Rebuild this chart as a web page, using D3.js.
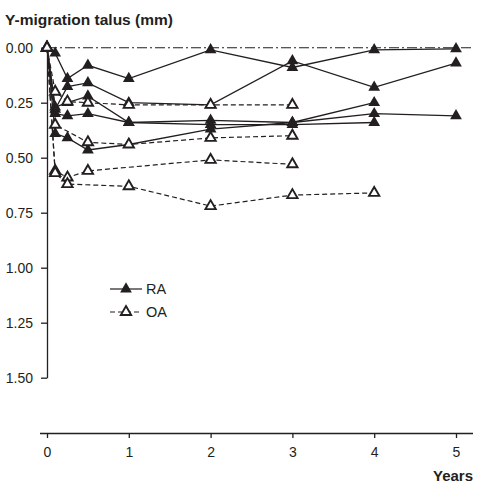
<!DOCTYPE html>
<html><head><meta charset="utf-8">
<script src="https://cdn.jsdelivr.net/npm/d3@7"></script>
<style>body{margin:0;background:#fff}svg{display:block}</style>
</head><body>
<script>
const years = [0, 0.1, 0.25, 0.5, 1, 2, 3, 4, 5];
const ra1 = [0, 0.025, 0.14, 0.08, 0.14, 0.01, 0.09, 0.01, 0.005];
const ra2 = [0, 0.28, 0.177, 0.16, 0.25, 0.26, 0.06, 0.18, 0.07];
const ra3 = [0, 0.30, 0.31, 0.30, 0.34, 0.33, 0.34, 0.25, null];
const ra4 = [0, 0.39, 0.41, 0.465, 0.44, 0.37, 0.34, 0.30, 0.31];
const ra5 = [0, 0.27, 0.25, 0.22, 0.34, 0.35, 0.35, 0.34, null];
const oa1 = [0, 0.20, 0.245, 0.25, 0.26, 0.26, 0.26, null, null];
const oa2 = [0, 0.35, null, 0.43, 0.44, 0.41, 0.40, null, null];
const oa3 = [0, 0.56, 0.59, 0.56, null, 0.51, 0.53, null, null];
const oa4 = [0, 0.57, 0.62, null, 0.63, 0.72, 0.67, 0.66, null];
const raSeries = [ra1, ra2, ra3, ra4, ra5];
const oaSeries = [oa1, oa2, oa3, oa4];
const yTicks = [0, 0.25, 0.5, 0.75, 1.0, 1.25, 1.5];
const xTicks = [0, 1, 2, 3, 4, 5];
const legendLabels = ["RA", "OA"];

const W = 477, H = 484, ink = "#231f20";
const font = "Liberation Sans, Arial, Helvetica, sans-serif";
const svg = d3.select("body").append("svg").attr("width", W).attr("height", H)
  .style("font-family", font);

const x = d3.scaleLinear().domain([0, 5]).range([47, 456]);
const y = d3.scaleLinear().domain([0, 1.5]).range([47.7, 377.7]);

// title
svg.append("text").attr("x", 5).attr("y", 25).text("Y-migration talus (mm)")
  .attr("font-size", 15.5).attr("font-weight", "bold").attr("fill", ink);

// y axis
const ya = svg.append("g").attr("transform", "translate(47,0)")
  .call(d3.axisLeft(y).tickValues(yTicks).tickFormat(d3.format(".2f")).tickSize(6).tickSizeOuter(0));
ya.select(".domain").attr("stroke", ink).attr("stroke-width", 1.3);
ya.selectAll(".tick line").attr("stroke", ink).attr("stroke-width", 1.3);
ya.selectAll(".tick text").attr("x", -14).attr("font-size", 14).attr("font-family", font).attr("fill", ink);

// x axis
const xa = svg.append("g").attr("transform", "translate(0,433)")
  .call(d3.axisBottom(x).tickValues(xTicks).tickFormat(d3.format("d")).tickSize(5).tickSizeOuter(0));
xa.select(".domain").attr("d", "M40,0.5H473").attr("stroke", ink).attr("stroke-width", 1.3);
xa.selectAll(".tick line").attr("stroke", ink).attr("stroke-width", 1.3);
xa.selectAll(".tick text").attr("y", 14).attr("font-size", 14).attr("font-family", font).attr("fill", ink);
svg.append("text").attr("x", 473).attr("y", 481).attr("text-anchor", "end")
  .text("Years").attr("font-size", 15).attr("font-weight", "bold").attr("fill", ink);

// reference line at 0
svg.append("line").attr("x1", x(0)).attr("x2", 473).attr("y1", y(0)).attr("y2", y(0))
  .attr("stroke", ink).attr("stroke-width", 1.1).attr("stroke-dasharray", "10,3,2,3");

const toPts = s => years.map((t, i) => [t, s[i]]).filter(d => d[1] !== null);
const line = d3.line().x(d => x(d[0])).y(d => y(d[1]));
const triFill = d3.symbol().type(d3.symbolTriangle).size(60);
const triOpen = d3.symbol().type(d3.symbolTriangle).size(46);

// RA lines
raSeries.forEach(s => {
  svg.append("path").datum(toPts(s)).attr("d", line).attr("fill", "none")
    .attr("stroke", ink).attr("stroke-width", 1.3);
});
// OA lines
oaSeries.forEach(s => {
  svg.append("path").datum(toPts(s)).attr("d", line).attr("fill", "none")
    .attr("stroke", ink).attr("stroke-width", 1.2).attr("stroke-dasharray", "5,3");
});
// RA markers
raSeries.forEach(s => {
  svg.append("g").selectAll("path").data(toPts(s)).join("path")
    .attr("transform", d => `translate(${x(d[0])},${y(d[1])})`)
    .attr("d", triFill).attr("fill", ink);
});
// OA markers
oaSeries.forEach(s => {
  svg.append("g").selectAll("path").data(toPts(s)).join("path")
    .attr("transform", d => `translate(${x(d[0])},${y(d[1])})`)
    .attr("d", triOpen).attr("fill", "#fff").attr("stroke", ink).attr("stroke-width", 1.9);
});

// legend
const lg = svg.append("g");
const ly = [289, 312];
legendLabels.forEach((lab, i) => {
  lg.append("line").attr("x1", 110).attr("x2", 142).attr("y1", ly[i]).attr("y2", ly[i])
    .attr("stroke", ink).attr("stroke-width", 1.2)
    .attr("stroke-dasharray", i === 0 ? null : "5,3");
  lg.append("path").attr("transform", `translate(126,${ly[i]})`)
    .attr("d", i === 0 ? triFill : triOpen)
    .attr("fill", i === 0 ? ink : "#fff").attr("stroke", i === 0 ? null : ink).attr("stroke-width", 1.9);
  lg.append("text").attr("x", 146).attr("y", ly[i]).attr("dy", "0.36em")
    .text(lab).attr("font-size", 14.5).attr("fill", ink);
});
</script>
</body></html>
